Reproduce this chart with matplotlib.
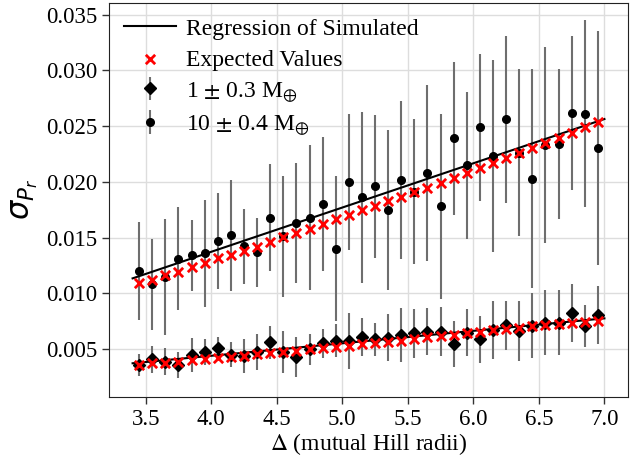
import numpy as np
import matplotlib
matplotlib.use("Agg")
import matplotlib.pyplot as plt

# spacing in mutual Hill radii
delta = [3.45, 3.55, 3.65, 3.75, 3.85, 3.95, 4.05, 4.15, 4.25, 4.35,
         4.45, 4.55, 4.65, 4.75, 4.85, 4.95, 5.05, 5.15, 5.25, 5.35,
         5.45, 5.55, 5.65, 5.75, 5.85, 5.95, 6.05, 6.15, 6.25, 6.35,
         6.45, 6.55, 6.65, 6.75, 6.85, 6.95]

# 10 +- 0.4 Earth masses (circles)
sig_hi = [0.0120, 0.0108, 0.0115, 0.0131, 0.0134, 0.0136, 0.0147, 0.0152, 0.0142, 0.0137,
          0.0168, 0.0151, 0.0163, 0.0168, 0.0180, 0.0140, 0.0200, 0.0186, 0.0196, 0.0175,
          0.0202, 0.0191, 0.0208, 0.0178, 0.0239, 0.0215, 0.0249, 0.0223, 0.0256, 0.0226,
          0.0203, 0.0233, 0.0234, 0.0262, 0.0261, 0.0230]
err_hi = [0.0044, 0.0041, 0.0052, 0.0046, 0.0032, 0.0048, 0.0043, 0.0050, 0.0034, 0.0031,
          0.0048, 0.0054, 0.0054, 0.0065, 0.0060, 0.0065, 0.0061, 0.0077, 0.0064, 0.0072,
          0.0071, 0.0065, 0.0079, 0.0083, 0.0069, 0.0066, 0.0066, 0.0086, 0.0075, 0.0075,
          0.0098, 0.0088, 0.0067, 0.0069, 0.0084, 0.0105]
exp_hi = [0.01090, 0.01119, 0.01164, 0.01194, 0.01239, 0.01274, 0.01314, 0.01344, 0.01382, 0.01418,
          0.01463, 0.01502, 0.01538, 0.01580, 0.01619, 0.01664, 0.01703, 0.01747, 0.01786, 0.01826,
          0.01867, 0.01912, 0.01948, 0.01992, 0.02037, 0.02077, 0.02122, 0.02167, 0.02211, 0.02256,
          0.02301, 0.02346, 0.02391, 0.02441, 0.02490, 0.02537]

# 1 +- 0.3 Earth masses (diamonds)
sig_lo = [0.00356, 0.00408, 0.00386, 0.00356, 0.00446, 0.00473, 0.00509, 0.00449, 0.00437, 0.00476,
          0.00560, 0.00476, 0.00431, 0.00497, 0.00551, 0.00574, 0.00572, 0.00610, 0.00587, 0.00601,
          0.00626, 0.00641, 0.00655, 0.00655, 0.00545, 0.00646, 0.00587, 0.00670, 0.00715, 0.00664,
          0.00709, 0.00736, 0.00736, 0.00826, 0.00709, 0.00805]
err_lo = [0.0010, 0.0012, 0.0012, 0.0012, 0.0015, 0.0012, 0.0010, 0.0011, 0.0015, 0.0016,
          0.0015, 0.0019, 0.0018, 0.0014, 0.0013, 0.0015, 0.0025, 0.0017, 0.0015, 0.0021,
          0.0024, 0.0022, 0.0021, 0.0022, 0.0021, 0.0021, 0.0021, 0.0026, 0.0022, 0.0027,
          0.0029, 0.0029, 0.0029, 0.0026, 0.0019, 0.0026]
exp_lo = [0.00356, 0.00372, 0.00377, 0.00386, 0.00401, 0.00410, 0.00422, 0.00431, 0.00440, 0.00452,
          0.00461, 0.00476, 0.00485, 0.00497, 0.00512, 0.00521, 0.00530, 0.00545, 0.00557, 0.00566,
          0.00574, 0.00590, 0.00605, 0.00617, 0.00626, 0.00641, 0.00655, 0.00671, 0.00679, 0.00691,
          0.00706, 0.00715, 0.00724, 0.00731, 0.00740, 0.00754]

# regression lines of the simulated data (end points)
reg_x = [3.4, 7.0]
reg_hi = [0.01134, 0.02564]
reg_lo = [0.00372, 0.00775]

plt.rcParams["font.family"] = ["Liberation Serif", "DejaVu Serif"]
plt.rcParams["mathtext.fontset"] = "stix"

fig = plt.figure(figsize=(6.39, 4.59), dpi=100)
ax = fig.add_axes([109 / 639, 62.3 / 459, 519 / 639, 394 / 459])

ax.grid(True, color="#dddddd", linewidth=1, zorder=0)
ax.set_axisbelow(True)

ax.plot(reg_x, reg_hi, color="black", lw=1.5, zorder=3, label="Regression of Simulated")
ax.plot(reg_x, reg_lo, color="black", lw=1.5, zorder=3)

ax.scatter(delta, exp_hi, marker="x", color="red", s=45, linewidths=2, zorder=4,
           label="Expected Values")
ax.scatter(delta, exp_lo, marker="x", color="red", s=45, linewidths=2, zorder=4)

ax.errorbar(delta, sig_lo, yerr=err_lo, fmt="D", color="black", ms=6,
            ecolor="#6e6e6e", elinewidth=1.5, capsize=0, zorder=2,
            label=r"1 $\pm$ 0.3 M$_{\oplus}$")
ax.errorbar(delta, sig_hi, yerr=err_hi, fmt="o", color="black", ms=5.5,
            ecolor="#6e6e6e", elinewidth=1.5, capsize=0, zorder=2,
            label=r"10 $\pm$ 0.4 M$_{\oplus}$")

ax.set_xlim(3.22, 7.18)
ax.set_ylim(0.00072, 0.03608)
ax.set_xticks([3.5, 4.0, 4.5, 5.0, 5.5, 6.0, 6.5, 7.0])
ax.set_yticks([0.005, 0.010, 0.015, 0.020, 0.025, 0.030, 0.035])
ax.set_yticklabels(["0.005", "0.010", "0.015", "0.020", "0.025", "0.030", "0.035"])
ax.tick_params(labelsize=16.5, length=5, width=1, color="#333333")
for s in ax.spines.values():
  s.set_color("#222222")

ax.set_xlabel(r"$\Delta$ (mutual Hill radii)", fontsize=17, labelpad=1)
ax.set_ylabel(r"$\sigma_{P_r}$", fontsize=22, math_fontfamily="dejavusans")

ax.legend(loc="upper left", fontsize=17, frameon=False, handlelength=2.2,
          borderaxespad=0.25, labelspacing=0.4, handletextpad=0.4)

fig.savefig("out.png", dpi=100)
